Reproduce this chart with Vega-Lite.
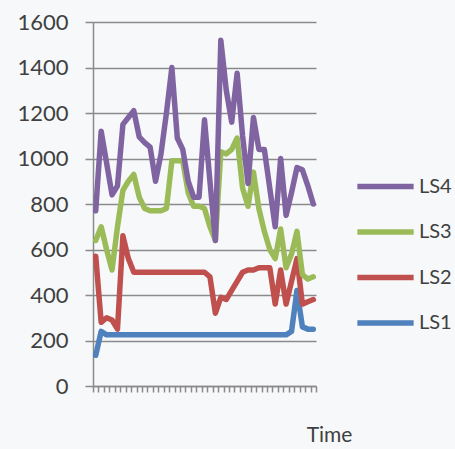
{
  "$schema": "https://vega.github.io/schema/vega-lite/v6.json",
  "width": 223,
  "height": 364,
  "autosize": "none",
  "padding": {"left": 93, "top": 22, "right": 139, "bottom": 63},
  "background": "#f7f8fa",
  "config": {
    "view": {"stroke": null},
    "font": "Lato",
    "axis": {"labelColor": "#404040", "titleColor": "#404040", "domainColor": "#8a8a8a", "tickColor": "#8a8a8a", "gridColor": "#8a8a8a", "domainWidth": 1.5, "tickWidth": 1.5, "gridWidth": 1.5, "gridOpacity": 1}
  },
  "data": {
    "values": [
      {"t": 0, "LS1": 135, "LS2": 570, "LS3": 640, "LS4": 770},
      {"t": 1, "LS1": 240, "LS2": 280, "LS3": 700, "LS4": 1120},
      {"t": 2, "LS1": 225, "LS2": 300, "LS3": 600, "LS4": 980},
      {"t": 3, "LS1": 225, "LS2": 290, "LS3": 510, "LS4": 840},
      {"t": 4, "LS1": 225, "LS2": 250, "LS3": 700, "LS4": 880},
      {"t": 5, "LS1": 225, "LS2": 660, "LS3": 860, "LS4": 1150},
      {"t": 6, "LS1": 225, "LS2": 560, "LS3": 900, "LS4": 1180},
      {"t": 7, "LS1": 225, "LS2": 500, "LS3": 930, "LS4": 1210},
      {"t": 8, "LS1": 225, "LS2": 500, "LS3": 830, "LS4": 1095},
      {"t": 9, "LS1": 225, "LS2": 500, "LS3": 780, "LS4": 1070},
      {"t": 10, "LS1": 225, "LS2": 500, "LS3": 770, "LS4": 1050},
      {"t": 11, "LS1": 225, "LS2": 500, "LS3": 770, "LS4": 900},
      {"t": 12, "LS1": 225, "LS2": 500, "LS3": 770, "LS4": 1020},
      {"t": 13, "LS1": 225, "LS2": 500, "LS3": 780, "LS4": 1200},
      {"t": 14, "LS1": 225, "LS2": 500, "LS3": 990, "LS4": 1400},
      {"t": 15, "LS1": 225, "LS2": 500, "LS3": 990, "LS4": 1090},
      {"t": 16, "LS1": 225, "LS2": 500, "LS3": 990, "LS4": 1040},
      {"t": 17, "LS1": 225, "LS2": 500, "LS3": 850, "LS4": 900},
      {"t": 18, "LS1": 225, "LS2": 500, "LS3": 790, "LS4": 830},
      {"t": 19, "LS1": 225, "LS2": 500, "LS3": 790, "LS4": 830},
      {"t": 20, "LS1": 225, "LS2": 500, "LS3": 780, "LS4": 1170},
      {"t": 21, "LS1": 225, "LS2": 480, "LS3": 700, "LS4": 900},
      {"t": 22, "LS1": 225, "LS2": 320, "LS3": 640, "LS4": 640},
      {"t": 23, "LS1": 225, "LS2": 390, "LS3": 1030, "LS4": 1520},
      {"t": 24, "LS1": 225, "LS2": 380, "LS3": 1020, "LS4": 1300},
      {"t": 25, "LS1": 225, "LS2": 420, "LS3": 1040, "LS4": 1160},
      {"t": 26, "LS1": 225, "LS2": 460, "LS3": 1090, "LS4": 1375},
      {"t": 27, "LS1": 225, "LS2": 500, "LS3": 870, "LS4": 1100},
      {"t": 28, "LS1": 225, "LS2": 510, "LS3": 790, "LS4": 890},
      {"t": 29, "LS1": 225, "LS2": 510, "LS3": 940, "LS4": 1180},
      {"t": 30, "LS1": 225, "LS2": 520, "LS3": 780, "LS4": 1040},
      {"t": 31, "LS1": 225, "LS2": 520, "LS3": 680, "LS4": 1040},
      {"t": 32, "LS1": 225, "LS2": 520, "LS3": 600, "LS4": 870},
      {"t": 33, "LS1": 225, "LS2": 360, "LS3": 560, "LS4": 700},
      {"t": 34, "LS1": 225, "LS2": 510, "LS3": 690, "LS4": 1000},
      {"t": 35, "LS1": 225, "LS2": 360, "LS3": 520, "LS4": 750},
      {"t": 36, "LS1": 240, "LS2": 460, "LS3": 580, "LS4": 850},
      {"t": 37, "LS1": 420, "LS2": 560, "LS3": 680, "LS4": 960},
      {"t": 38, "LS1": 260, "LS2": 360, "LS3": 490, "LS4": 950},
      {"t": 39, "LS1": 250, "LS2": 370, "LS3": 470, "LS4": 880},
      {"t": 40, "LS1": 250, "LS2": 380, "LS3": 480, "LS4": 800}
    ]
  },
  "transform": [{"fold": ["LS1", "LS2", "LS3", "LS4"], "as": ["series", "value"]}],
  "mark": {"type": "line", "strokeWidth": 5.5, "strokeJoin": "round", "strokeCap": "round"},
  "encoding": {
    "x": {
      "field": "t",
      "type": "quantitative",
      "scale": {"domain": [-0.5, 40.5], "nice": false, "zero": false},
      "axis": {
        "values": [-0.5, 0.5, 1.5, 2.5, 3.5, 4.5, 5.5, 6.5, 7.5, 8.5, 9.5, 10.5, 11.5, 12.5, 13.5, 14.5, 15.5, 16.5, 17.5, 18.5, 19.5, 20.5, 21.5, 22.5, 23.5, 24.5, 25.5, 26.5, 27.5, 28.5, 29.5, 30.5, 31.5, 32.5, 33.5, 34.5, 35.5, 36.5, 37.5, 38.5, 39.5, 40.5],
        "labels": false,
        "grid": false,
        "tickSize": 6,
        "title": "Time",
        "titleFontSize": 21,
        "titleFontWeight": "normal",
        "titleX": 236,
        "titleY": 55,
        "titleAlign": "center",
        "titleBaseline": "alphabetic"
      }
    },
    "y": {
      "field": "value",
      "type": "quantitative",
      "scale": {"domain": [0, 1600], "nice": false},
      "axis": {
        "values": [0, 200, 400, 600, 800, 1000, 1200, 1400, 1600],
        "format": "d",
        "title": null,
        "labelFontSize": 22,
        "labelPadding": 17,
        "tickSize": 8,
        "grid": true
      }
    },
    "color": {
      "field": "series",
      "type": "nominal",
      "scale": {"domain": ["LS4", "LS3", "LS2", "LS1"], "range": ["#8064A2", "#9BBB59", "#C0504D", "#4F81BD"]},
      "legend": {
        "title": null,
        "orient": "none",
        "legendX": 267,
        "legendY": 139,
        "padding": 0,
        "symbolType": "M-1.25,0H1.25",
        "symbolSize": 2025,
        "symbolStrokeWidth": 5.5,
        "rowPadding": 8.5,
        "labelFontSize": 20,
        "labelColor": "#404040",
        "labelOffset": 8
      }
    }
  }
}
